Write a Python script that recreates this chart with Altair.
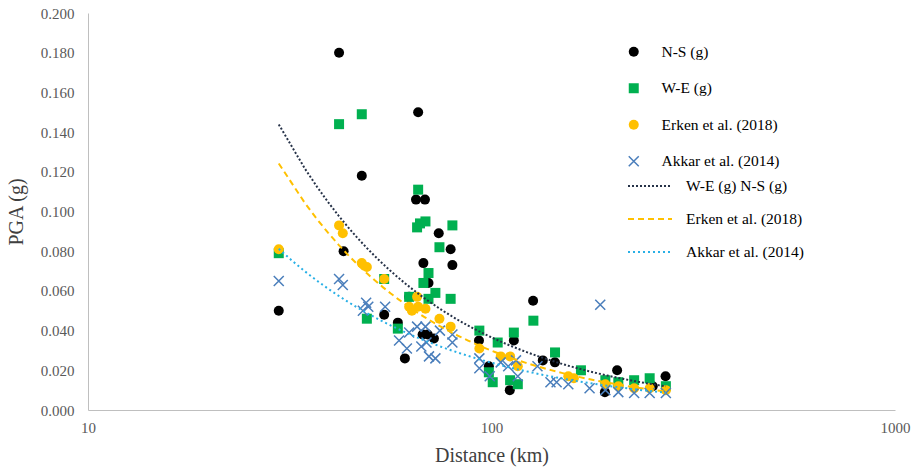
import altair as alt
import pandas as pd

# ---- data (distance km, PGA g) ----
ns_d = [29.7, 41.9, 43.0, 47.7, 54.2, 58.6, 61.0, 62.5, 65.0, 65.8, 68.4, 67.8, 69.8, 67.5,
        69.5, 72.0, 74.0, 79.2, 80.0, 93.1, 98.5, 111.0, 113.6, 126.8, 134.0, 143.6, 191.0,
        204.8, 251.0, 270.0]
ns_pga = [0.050, 0.180, 0.080, 0.118, 0.048, 0.044, 0.026, 0.057, 0.106, 0.150, 0.106, 0.074,
          0.064, 0.038, 0.038, 0.036, 0.089, 0.081, 0.073, 0.035, 0.022, 0.010, 0.035, 0.055,
          0.025, 0.024, 0.009, 0.020, 0.012, 0.017]

we_d = [29.7, 41.9, 47.7, 49.1, 54.2, 58.6, 62.5, 65.8, 65.4, 68.6, 66.5, 80.0, 74.3, 69.8,
        67.8, 72.6, 69.8, 79.2, 93.3, 98.5, 100.7, 103.6, 113.6, 127.0, 143.7, 166.6, 111.2,
        116.2, 191.5, 206.2, 225.7, 246.6, 270.5]
we_pga = [0.079, 0.144, 0.149, 0.046, 0.066, 0.041, 0.057, 0.111, 0.092, 0.095, 0.094, 0.093,
          0.082, 0.069, 0.064, 0.059, 0.056, 0.056, 0.040, 0.019, 0.014, 0.034, 0.039, 0.045,
          0.029, 0.020, 0.015, 0.013, 0.015, 0.014, 0.015, 0.016, 0.012]

er_d = [29.7, 41.9, 42.8, 47.7, 49.1, 54.2, 62.5, 63.5, 65.4, 65.8, 68.6, 74.3, 79.2, 93.3,
        105.4, 111.2, 116.2, 155.0, 160.0, 191.5, 206.2, 225.7, 246.6, 270.5]
er_pga = [0.081, 0.093, 0.089, 0.074, 0.072, 0.066, 0.052, 0.050, 0.057, 0.052, 0.051, 0.046,
          0.042, 0.031, 0.027, 0.027, 0.022, 0.017, 0.016, 0.013, 0.012, 0.011, 0.011, 0.010]

ak_d = [29.7, 41.9, 42.8, 48.9, 48.0, 49.5, 54.5, 59.0, 61.7, 62.5, 65.4, 68.6, 67.0, 69.0,
        70.0, 72.6, 74.5, 80.0, 80.0, 93.3, 93.3, 99.0, 105.4, 110.0, 115.0, 116.2, 130.0,
        140.0, 145.0, 155.0, 175.0, 186.0, 191.5, 206.2, 225.7, 246.6, 270.5]
ak_pga = [0.065, 0.066, 0.063, 0.054, 0.050, 0.052, 0.052, 0.035, 0.031, 0.039, 0.042, 0.042,
          0.032, 0.034, 0.027, 0.026, 0.040, 0.038, 0.034, 0.026, 0.021, 0.017, 0.024, 0.022,
          0.025, 0.017, 0.022, 0.014, 0.014, 0.013, 0.011, 0.053, 0.010, 0.009, 0.0086, 0.0086,
          0.0086]

series_names = ["N-S (g)", "W-E (g)", "Erken et al. (2018)", "Akkar et al. (2014)"]
trend_names = ["W-E (g) N-S (g)", "Erken et al. (2018)", "Akkar et al. (2014)"]
x_ticks = [10, 100, 1000]
y_ticks = [0.0, 0.02, 0.04, 0.06, 0.08, 0.10, 0.12, 0.14, 0.16, 0.18, 0.20]

SERIF = "Liberation Serif"

pts_rows = []
for name, ds, ps in zip(series_names, [ns_d, we_d, er_d, ak_d], [ns_pga, we_pga, er_pga, ak_pga]):
    assert len(ds) == len(ps)
    for d, p in zip(ds, ps):
        pts_rows.append({"series": name, "d": d, "pga": p})
pts = pd.DataFrame(pts_rows)

trend_rows = []
for name, groups in [(trend_names[0], [(ns_d, ns_pga), (we_d, we_pga)]),
                     (trend_names[1], [(er_d, er_pga)]),
                     (trend_names[2], [(ak_d, ak_pga)])]:
    for ds, ps in groups:
        for d, p in zip(ds, ps):
            trend_rows.append({"trend": name, "d": d, "pga": p})
trend = pd.DataFrame(trend_rows)

xscale = alt.Scale(type="log", domain=[10, 1000], nice=False)
yscale = alt.Scale(domain=[0, 0.2], nice=False, zero=True)

xaxis = alt.Axis(values=x_ticks, format="d", grid=False, ticks=False, domainColor="#bfbfbf",
                 labelFont=SERIF, labelFontSize=15, labelColor="#595959", labelPadding=10,
                 title="Distance (km)", titleFont=SERIF, titleFontSize=20,
                 titleFontWeight="normal", titleColor="#404040", titlePadding=10,
                 labelFlush=False, labelOverlap=False)
yaxis = alt.Axis(values=y_ticks, format=".3f", grid=False, ticks=False, domainColor="#bfbfbf",
                 labelFont=SERIF, labelFontSize=15, labelColor="#595959", labelPadding=14,
                 title="PGA (g)", titleFont=SERIF, titleFontSize=20, titleFontWeight="normal",
                 titleColor="#404040", titlePadding=14, labelOverlap=False, labelBound=False,
                 labelSeparation=0, tickCount=11)

pt_legend = alt.Legend(orient="none", legendX=538, legendY=31, title=None,
                       labelFont=SERIF, labelFontSize=15.5, labelColor="#000000",
                       symbolSize=100, symbolStrokeWidth=1.5, labelOffset=20, rowPadding=18.5)

points = alt.Chart(pts).mark_point(filled=True, opacity=1, strokeWidth=1.5, size=100).encode(
    x=alt.X("d:Q", scale=xscale, axis=xaxis),
    y=alt.Y("pga:Q", scale=yscale, axis=yaxis),
    fill=alt.Fill("series:N", scale=alt.Scale(domain=series_names,
                  range=["#000000", "#00b050", "#ffc000", "transparent"]), legend=pt_legend),
    stroke=alt.Stroke("series:N", scale=alt.Scale(domain=series_names,
                      range=["transparent", "transparent", "transparent", "#4a7ebb"]), legend=pt_legend),
    shape=alt.Shape("series:N", scale=alt.Scale(domain=series_names,
                    range=["circle", "square", "circle", "M-1,-1L1,1M-1,1L1,-1"]), legend=pt_legend),
)

ln_legend = alt.Legend(orient="none", legendX=539, legendY=165, title=None,
                       labelFont=SERIF, labelFontSize=15.5, labelColor="#000000",
                       symbolType="stroke", symbolSize=1936, symbolStrokeWidth=2,
                       clipHeight=16, labelOffset=13, rowPadding=16)

lines = alt.Chart(trend).transform_regression(
    "d", "pga", method="pow", groupby=["trend"]
).mark_line(strokeWidth=2).encode(
    x=alt.X("d:Q", scale=xscale, axis=xaxis),
    y=alt.Y("pga:Q", scale=yscale, axis=yaxis),
    color=alt.Color("trend:N", scale=alt.Scale(domain=trend_names,
                    range=["#263248", "#ffc000", "#29b0e6"]), legend=ln_legend),
    strokeDash=alt.StrokeDash("trend:N", scale=alt.Scale(domain=trend_names,
                              range=[[2, 2], [6, 4], [2, 3]]), legend=ln_legend),
)

chart = alt.layer(points, lines).properties(
    width=807, height=397,
    autosize=alt.AutoSizeParams(type="none"),
    padding={"left": 88, "top": 13, "right": 26, "bottom": 58},
    background="white",
).configure_view(stroke=None).configure_axis(labelOverlap=False)

chart.save("out.html", embed_options={"renderer": "svg", "actions": False})
